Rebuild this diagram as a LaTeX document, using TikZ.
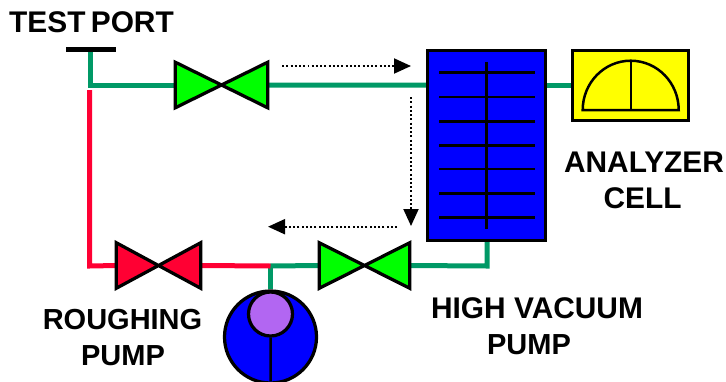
\documentclass[tikz,border=0pt]{standalone}
\usepackage{amsmath}
\usepackage{xcolor}
\usepackage{tikz}
\usepackage{fontspec}
\setmainfont{Liberation Sans}
\usetikzlibrary{arrows.meta}
\definecolor{pipegreen}{HTML}{009966}
\definecolor{pipered}{HTML}{FF0033}
\definecolor{valvegreen}{HTML}{00FF00}
\definecolor{trapblue}{HTML}{0000FF}
\definecolor{cellyellow}{HTML}{FFFF00}
\definecolor{pumppurple}{HTML}{B266F2}

\begin{document}
\begin{tikzpicture}[scale=0.2]
		\tikzstyle{every node}+=[inner sep=0pt]
		\tikzstyle{label}=[font=\fontsize{17pt}{18pt}\selectfont\bfseries]
		\tikzstyle{smalllabel}=[font=\fontsize{16.5pt}{18pt}\selectfont\bfseries]
		\tikzstyle{valve}=[minimum width=1.84cm, minimum height=0.9cm]
		\tikzstyle{bowtie}=[draw=black, line width=0.065cm, line join=miter]
		\tikzstyle{greenpipe}=[draw=pipegreen, line width=0.1cm, line join=miter]
		\tikzstyle{redpipe}=[draw=pipered, line width=0.1cm, line join=miter]
		\tikzstyle{part}=[draw=black, line width=0.065cm]
		\tikzstyle{wire}=[black, line width=0.05cm]
		\tikzstyle{flow}=[black, line width=0.04cm, dash pattern=on 0.04cm off 0.045cm, -{Triangle[length=0.34cm, width=0.3cm]}]
		\useasboundingbox (0,0) rectangle (72.6,-38.1);
		% positions
		\node (trap) [part, fill=trapblue, minimum width=2.36cm, minimum height=3.8cm] at (48.65,-14.55) {};
		\node (cell) [part, fill=cellyellow, minimum width=2.32cm, minimum height=1.4cm] at (63.05,-8.55) {};
		\node (testvalve) [valve] at (22.15,-8.5) {};
		\node (roughvalve) [valve, minimum width=1.68cm] at (15.85,-26.55) {};
		\node (hivacvalve) [valve, minimum width=1.8cm] at (36.45,-26.55) {};
		\node (pump) [part, fill=trapblue, circle, minimum size=1.84cm] at (27.05,-33.7) {};
		\node (rotor) [part, fill=pumppurple, circle, minimum size=0.88cm] at (27.05,-31.4) {};
		\coordinate (portbar) at (9.05,-4.95);
		\coordinate (portleft) at (6.6,-4.95);
		\coordinate (portright) at (11.6,-4.95);
		\coordinate (corner) at (9.05,-8.5);
		\coordinate (redstart) at (8.95,-9);
		\coordinate (redcorner) at (8.95,-26.6);
		\coordinate (junction) at (27,-26.6);
		\coordinate (redend) at (27.05,-26.6);
		\coordinate (trapleft) at (trap.west |- corner);
		\coordinate (trapdrop) at (48.7,-26.6);
		% pipes
		\draw [greenpipe] (portbar) -- (corner) -- (testvalve.west);
		\draw [greenpipe] (testvalve.east) -- (trapleft);
		\draw [greenpipe] (trap.east |- cell.west) -- (cell.west);
		\draw [redpipe] (redstart) -- (redcorner) -- (roughvalve.west);
		\draw [greenpipe] (junction) -- (hivacvalve.west);
		\draw [greenpipe] (hivacvalve.east) -- (trapdrop) -- (trap.south -| trapdrop);
		\draw [greenpipe] (junction) -- (pump.north -| junction);
		\draw [redpipe] (roughvalve.east) -- (redend);
		\draw [black, line width=0.1cm] (portleft) -- (portright);
		% valves
		\draw [bowtie, fill=valvegreen] (testvalve.north west) -- (testvalve.south east) -- (testvalve.north east) -- (testvalve.south west) -- cycle;
		\draw [bowtie, fill=pipered] (roughvalve.north west) -- (roughvalve.south east) -- (roughvalve.north east) -- (roughvalve.south west) -- cycle;
		\draw [bowtie, fill=valvegreen] (hivacvalve.north west) -- (hivacvalve.south east) -- (hivacvalve.north east) -- (hivacvalve.south west) -- cycle;
		% cold trap
		\draw [wire] (48.67,-6.17) -- (48.67,-22.9);
		\draw [wire] (43.93,-7.27) -- (53.5,-7.27);
		\draw [wire] (43.93,-9.7) -- (53.5,-9.7);
		\draw [wire] (43.93,-12.13) -- (53.5,-12.13);
		\draw [wire] (43.93,-14.57) -- (53.5,-14.57);
		\draw [wire] (43.93,-16.9) -- (53.5,-16.9);
		\draw [wire] (43.93,-19.33) -- (53.5,-19.33);
		\draw [wire] (43.93,-21.77) -- (53.5,-21.77);
		% dial
		\draw [wire] (58.27,-11) arc [start angle=180, end angle=0, x radius=4.8, y radius=4.93] -- cycle;
		\draw [wire] (63.1,-6.07) -- (63.1,-11);
		% pump
		\draw [wire] (rotor.south) -- (27.05,-38.1);
		% flow arrows
		\coordinate (flowastart) at (28.2,-6.6);
		\coordinate (flowaend) at (41.1,-6.6);
		\coordinate (flowbstart) at (41.1,-9.7);
		\coordinate (flowbend) at (41.1,-22.6);
		\coordinate (flowcstart) at (39.7,-22.67);
		\coordinate (flowcend) at (26.8,-22.67);
		\draw [flow] (flowastart) -- (flowaend);
		\draw [flow] (flowbstart) -- (flowbend);
		\draw [flow] (flowcstart) -- (flowcend);
		% labels
		\node (testlabel) [label] at (9.15,-2.25) {TEST\hspace{-0.1em} PORT};
		\node (roughlabel) [smalllabel] at (12.25,-31.95) {ROUGHING};
		\node (roughpump) [smalllabel] at (12.3,-35.55) {PUMP};
		\node (hivaclabel) [label] at (53.7,-30.85) {HIGH VACUUM};
		\node (hivacpump) [smalllabel] at (52.9,-34.45) {PUMP};
		\node (celllabel) [label] at (64.4,-16.2) {ANALYZER};
		\node (celllower) [label] at (64.25,-19.8) {CELL};
\end{tikzpicture}
\end{document}
